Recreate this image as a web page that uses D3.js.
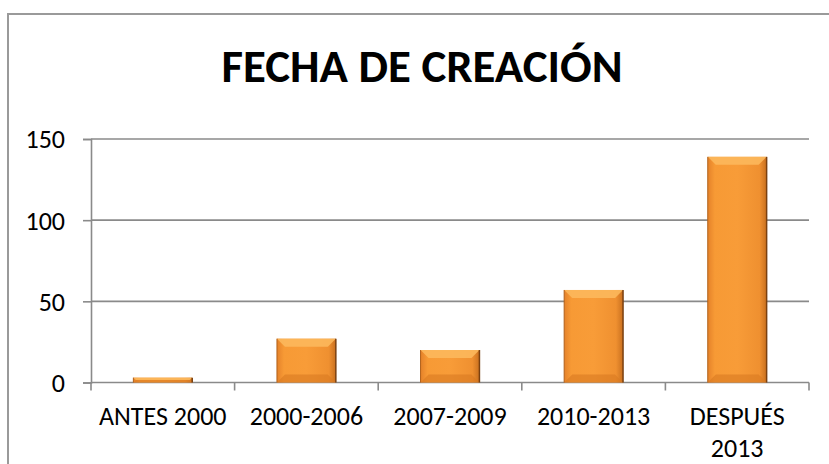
<!DOCTYPE html>
<html>
<head>
<meta charset="utf-8">
<script src="https://cdn.jsdelivr.net/npm/d3@7"></script>
<style>
  html, body { margin: 0; padding: 0; background: #fff; }
  svg { display: block; }
  text { font-family: Carlito, Calibri, Lato, sans-serif; fill: #000; }
</style>
</head>
<body>
<div id="chart"></div>
<script>
var width = 829,
    height = 464;

// data
var categories = ["ANTES 2000", "2000-2006", "2007-2009", "2010-2013", "DESPUÉS 2013"];
var values = [3, 27, 20, 57, 139];
var yTicks = [0, 50, 100, 150];
var title = "FECHA DE CREACIÓN";

var margin = {left: 91, right: 20, top: 139, bottom: 81.5};

var svg = d3.select("#chart")
  .append("svg")
  .attr("width", width)
  .attr("height", height);

var defs = svg.append("defs");
var grad = defs.append("linearGradient")
  .attr("id", "barGrad")
  .attr("x1", "0").attr("x2", "1").attr("y1", "0").attr("y2", "0");
grad.append("stop").attr("offset", "0%").attr("stop-color", "#e5822a");
grad.append("stop").attr("offset", "12%").attr("stop-color", "#f79a35");
grad.append("stop").attr("offset", "50%").attr("stop-color", "#f89c38");
grad.append("stop").attr("offset", "88%").attr("stop-color", "#ef9030");
grad.append("stop").attr("offset", "100%").attr("stop-color", "#c9701f");

// outer frame (runs off the right and bottom edge)
svg.append("rect")
  .attr("x", 8).attr("y", 14)
  .attr("width", 840).attr("height", 480)
  .attr("fill", "none")
  .attr("stroke", "#9a9a9a")
  .attr("stroke-width", 2);

var x = d3.scaleBand()
  .domain(categories)
  .range([margin.left, width - margin.right])
  .padding(0);

var y = d3.scaleLinear()
  .domain([0, 150])
  .range([height - margin.bottom, margin.top]);

// gridlines
svg.append("g")
  .selectAll("line")
  .data(yTicks.filter(function(d){ return d > 0; }))
  .enter().append("line")
  .attr("x1", margin.left).attr("x2", width - margin.right)
  .attr("y1", function(d){ return y(d); })
  .attr("y2", function(d){ return y(d); })
  .attr("stroke", "#8a8a8a")
  .attr("stroke-width", 1.6);

// y axis
var yAxis = svg.append("g")
  .attr("transform", "translate(" + margin.left + ",0)")
  .call(d3.axisLeft(y).tickValues(yTicks).tickSize(8).tickPadding(18));
yAxis.select(".domain").attr("stroke", "#8a8a8a").attr("stroke-width", 1.6);
yAxis.selectAll(".tick line").attr("stroke", "#8a8a8a").attr("stroke-width", 1.6);
yAxis.selectAll(".tick text")
  .attr("font-size", 26)
  .attr("font-family", "Carlito, Calibri, Lato, sans-serif")
  .attr("dy", "0.34em");

// x axis line and ticks at category boundaries
var xg = svg.append("g");
xg.append("line")
  .attr("x1", margin.left).attr("x2", width - margin.right)
  .attr("y1", y(0)).attr("y2", y(0))
  .attr("stroke", "#8a8a8a").attr("stroke-width", 1.6);
var bounds = categories.map(function(c){ return x(c); }).concat([x(categories[categories.length - 1]) + x.bandwidth()]);
xg.selectAll("line.tk")
  .data(bounds)
  .enter().append("line")
  .attr("class", "tk")
  .attr("x1", function(d){ return d; }).attr("x2", function(d){ return d; })
  .attr("y1", y(0)).attr("y2", y(0) + 8)
  .attr("stroke", "#8a8a8a").attr("stroke-width", 1.6);

// category labels (wrap "DESPUÉS 2013")
var labels = xg.selectAll("text.cat")
  .data(categories)
  .enter().append("text")
  .attr("class", "cat")
  .attr("text-anchor", "middle")
  .attr("font-size", 26)
  .attr("x", function(d){ return x(d) + x.bandwidth() / 2; })
  .attr("y", y(0) + 42.5);
labels.each(function(d){
  var t = d3.select(this);
  var parts = d.indexOf("DESPU") === 0 ? d.split(" ") : [d];
  parts.forEach(function(p, i){
    t.append("tspan")
      .attr("x", x(d) + x.bandwidth() / 2)
      .attr("dy", i === 0 ? 0 : 31.5)
      .text(p);
  });
});

// bars with a bevel look
var barW = x.bandwidth() * 0.41;
var bars = svg.append("g")
  .selectAll("g.bar")
  .data(values)
  .enter().append("g")
  .attr("class", "bar");

bars.append("rect")
  .attr("x", function(d, i){ return x(categories[i]) + (x.bandwidth() - barW) / 2; })
  .attr("y", function(d){ return y(d); })
  .attr("width", barW)
  .attr("height", function(d){ return y(0) - y(d); })
  .attr("fill", "url(#barGrad)");

var bev = 8;
function bevelPts(d, i, side) {
  var x0 = x(categories[i]) + (x.bandwidth() - barW) / 2,
      x1 = x0 + barW,
      y0 = y(d),
      y1 = y(0),
      b = Math.min(bev, (y1 - y0) / 2, barW / 2);
  if (side === "top") return [[x0, y0], [x1, y0], [x1 - b, y0 + b], [x0 + b, y0 + b]];
  return [[x0, y1], [x1, y1], [x1 - b, y1 - b], [x0 + b, y1 - b]];
}
bars.append("polygon")
  .attr("points", function(d, i){ return bevelPts(d, i, "top").join(" "); })
  .attr("fill", "#fcb85c")
  .attr("opacity", 0.9);
bars.append("polygon")
  .attr("points", function(d, i){ return bevelPts(d, i, "bottom").join(" "); })
  .attr("fill", "#d97a22")
  .attr("opacity", 0.6);
// dark outline on right edge
bars.append("line")
  .attr("x1", function(d, i){ return x(categories[i]) + (x.bandwidth() + barW) / 2; })
  .attr("x2", function(d, i){ return x(categories[i]) + (x.bandwidth() + barW) / 2; })
  .attr("y1", function(d){ return y(d); })
  .attr("y2", y(0))
  .attr("stroke", "#7a4010")
  .attr("stroke-width", 1.5);
bars.append("line")
  .attr("x1", function(d, i){ return x(categories[i]) + (x.bandwidth() - barW) / 2; })
  .attr("x2", function(d, i){ return x(categories[i]) + (x.bandwidth() - barW) / 2; })
  .attr("y1", function(d){ return y(d); })
  .attr("y2", y(0))
  .attr("stroke", "#b0601a")
  .attr("stroke-width", 1);

// title
svg.append("text")
  .attr("x", 422)
  .attr("y", 82)
  .attr("text-anchor", "middle")
  .attr("font-size", 46)
  .attr("font-weight", "bold")
  .attr("textLength", 401)
  .attr("lengthAdjust", "spacingAndGlyphs")
  .text(title);
</script>
</body>
</html>
